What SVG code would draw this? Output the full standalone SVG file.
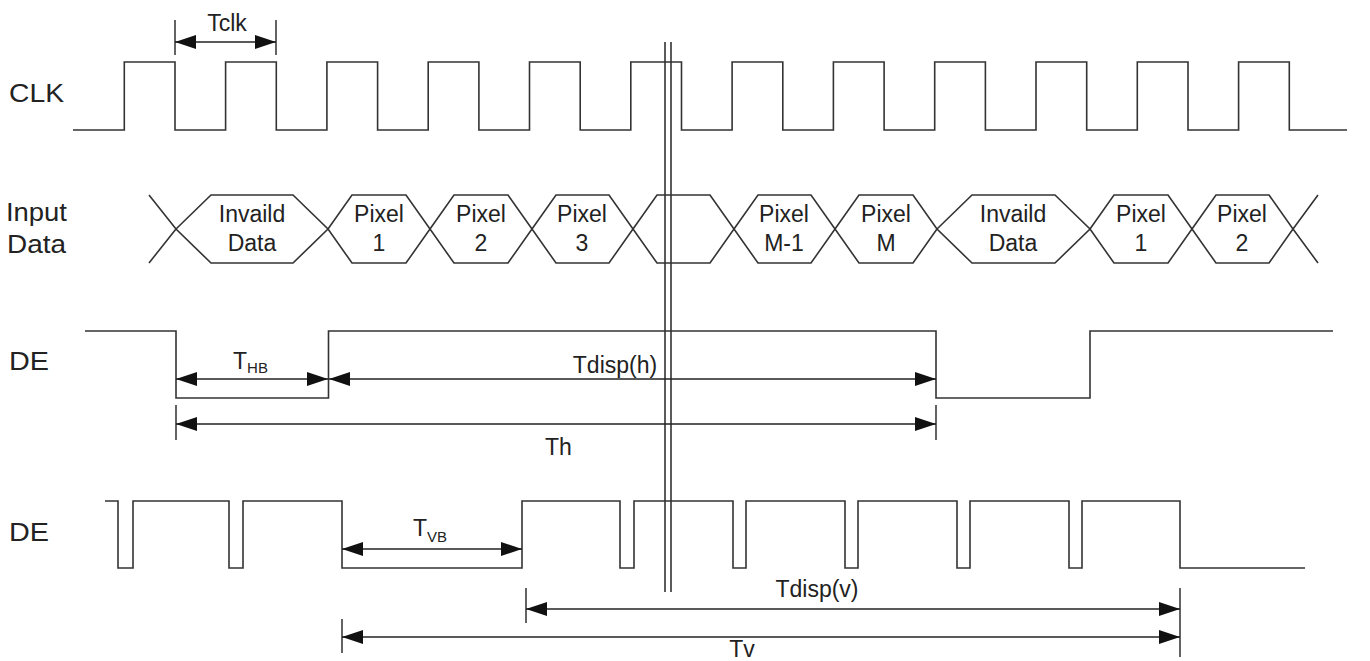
<svg xmlns="http://www.w3.org/2000/svg" width="1370" height="661" viewBox="0 0 1370 661">
<defs>
<style>
.sig{fill:none;stroke:#333;stroke-width:1.6;stroke-linejoin:miter}
.dim{fill:none;stroke:#222;stroke-width:1.4}
.t{font-family:"Liberation Sans",Arial,sans-serif;font-size:23px;fill:#222}
.lbl{font-size:25px}
.c{text-anchor:middle}
.sub{font-size:15px}
</style>
<marker id="ah" viewBox="0 0 21 14" refX="21" refY="7" markerWidth="21" markerHeight="14" markerUnits="userSpaceOnUse" orient="auto-start-reverse">
<path d="M0,0 L21,7 L0,14 Z" fill="#111"/>
</marker>
</defs>
<rect width="1370" height="661" fill="#fff"/>

<g id="labels">
<text class="t lbl" x="9" y="102" textLength="55" lengthAdjust="spacingAndGlyphs">CLK</text>
<text class="t lbl" x="6" y="221" textLength="61" lengthAdjust="spacingAndGlyphs">Input</text>
<text class="t lbl" x="7" y="253" textLength="59" lengthAdjust="spacingAndGlyphs">Data</text>
<text class="t lbl" x="9" y="370" textLength="40" lengthAdjust="spacingAndGlyphs">DE</text>
<text class="t lbl" x="9" y="541" textLength="40" lengthAdjust="spacingAndGlyphs">DE</text>
</g>

<g id="clk">
<path class="sig" d="M73,130 H124.3 V62 H175 V130 H225.6 V62 H276.3 V130 H326.9 V62 H377.6 V130 H428.2 V62 H478.9 V130 H529.5 V62 H580.2 V130 H630.8 V62 H681.5 V130 H732.1 V62 H782.8 V130 H833.4 V62 H884.1 V130 H934.7 V62 H985.4 V130 H1036 V62 H1086.7 V130 H1137.3 V62 H1188 V130 H1238.6 V62 H1289.3 V130 H1347"/>
</g>

<g id="input-data">
<path class="sig" d="M149,195 L176,229 L149,263"/>
<g id="hex-invalid1"><polygon class="sig" points="176,229 211,195 293,195 328,229 293,263 211,263"/>
<text class="t c" x="252" y="222">Invaild</text><text class="t c" x="252" y="251">Data</text></g>
<g id="hex-p1"><polygon class="sig" points="328,229 352,195 406,195 430,229 406,263 352,263"/>
<text class="t c" x="379" y="222">Pixel</text><text class="t c" x="379" y="251">1</text></g>
<g id="hex-p2"><polygon class="sig" points="430,229 454,195 508,195 532,229 508,263 454,263"/>
<text class="t c" x="481" y="222">Pixel</text><text class="t c" x="481" y="251">2</text></g>
<g id="hex-p3"><polygon class="sig" points="532,229 556,195 609,195 633,229 609,263 556,263"/>
<text class="t c" x="582" y="222">Pixel</text><text class="t c" x="582" y="251">3</text></g>
<g id="hex-empty"><polygon class="sig" points="633,229 657,195 710,195 734,229 710,263 657,263"/></g>
<g id="hex-pm1"><polygon class="sig" points="734,229 758,195 811,195 835,229 811,263 758,263"/>
<text class="t c" x="784" y="222">Pixel</text><text class="t c" x="784" y="251">M-1</text></g>
<g id="hex-pm"><polygon class="sig" points="835,229 859,195 913,195 937,229 913,263 859,263"/>
<text class="t c" x="886" y="222">Pixel</text><text class="t c" x="886" y="251">M</text></g>
<g id="hex-invalid2"><polygon class="sig" points="937,229 972,195 1055,195 1090,229 1055,263 972,263"/>
<text class="t c" x="1013" y="222">Invaild</text><text class="t c" x="1013" y="251">Data</text></g>
<g id="hex-p1b"><polygon class="sig" points="1090,229 1114,195 1168,195 1192,229 1168,263 1114,263"/>
<text class="t c" x="1141" y="222">Pixel</text><text class="t c" x="1141" y="251">1</text></g>
<g id="hex-p2b"><polygon class="sig" points="1192,229 1216,195 1269,195 1293,229 1269,263 1216,263"/>
<text class="t c" x="1242" y="222">Pixel</text><text class="t c" x="1242" y="251">2</text></g>
<path class="sig" d="M1318,195 L1293,229 L1318,263"/>
</g>

<g id="de1">
<path class="sig" d="M85,331 H176 V398 H328.5 V331 H936 V398 H1090 V331 H1333"/>
</g>

<g id="de2">
<path class="sig" d="M105,501 H118 V568 H133 V501 H229 V568 H243 V501 H342 V568 H522 V501 H620 V568 H634 V501 H733 V568 H746 V501 H845 V568 H858 V501 H957 V568 H970 V501 H1069 V568 H1082 V501 H1180 V568 H1305"/>
</g>

<g id="break">
<line class="sig" x1="665" y1="42" x2="665" y2="592"/>
<line class="sig" x1="671" y1="42" x2="671" y2="592"/>
</g>

<g id="connectors">
<line class="dim" x1="175" y1="20" x2="175" y2="55"/>
<line class="dim" x1="276" y1="20" x2="276" y2="55"/>
<line class="dim" x1="175" y1="42" x2="276" y2="42" marker-start="url(#ah)" marker-end="url(#ah)"/>

<line class="dim" x1="176" y1="379" x2="328" y2="379" marker-start="url(#ah)" marker-end="url(#ah)"/>
<line class="dim" x1="329" y1="379" x2="936" y2="379" marker-start="url(#ah)" marker-end="url(#ah)"/>
<line class="dim" x1="176" y1="405" x2="176" y2="440"/>
<line class="dim" x1="936" y1="405" x2="936" y2="440"/>
<line class="dim" x1="176" y1="424" x2="936" y2="424" marker-start="url(#ah)" marker-end="url(#ah)"/>

<line class="dim" x1="342" y1="549" x2="522" y2="549" marker-start="url(#ah)" marker-end="url(#ah)"/>
<line class="dim" x1="526" y1="588" x2="526" y2="623"/>
<line class="dim" x1="342" y1="619" x2="342" y2="653"/>
<line class="dim" x1="1180" y1="588" x2="1180" y2="657"/>
<line class="dim" x1="526" y1="609" x2="1180" y2="609" marker-start="url(#ah)" marker-end="url(#ah)"/>
<line class="dim" x1="342" y1="637" x2="1180" y2="637" marker-start="url(#ah)" marker-end="url(#ah)"/>
</g>

<g id="dim-labels">
<text class="t c" x="227" y="31">Tclk</text>
<text class="t" x="233" y="369">T<tspan class="sub" dy="4">HB</tspan></text>
<text class="t c" x="615" y="373">Tdisp(h)</text>
<text class="t" x="545" y="455">Th</text>
<text class="t" x="413" y="536">T<tspan class="sub" dy="6">VB</tspan></text>
<text class="t c" x="817" y="597">Tdisp(v)</text>
<text class="t c" x="742" y="657">Tv</text>
</g>
</svg>
